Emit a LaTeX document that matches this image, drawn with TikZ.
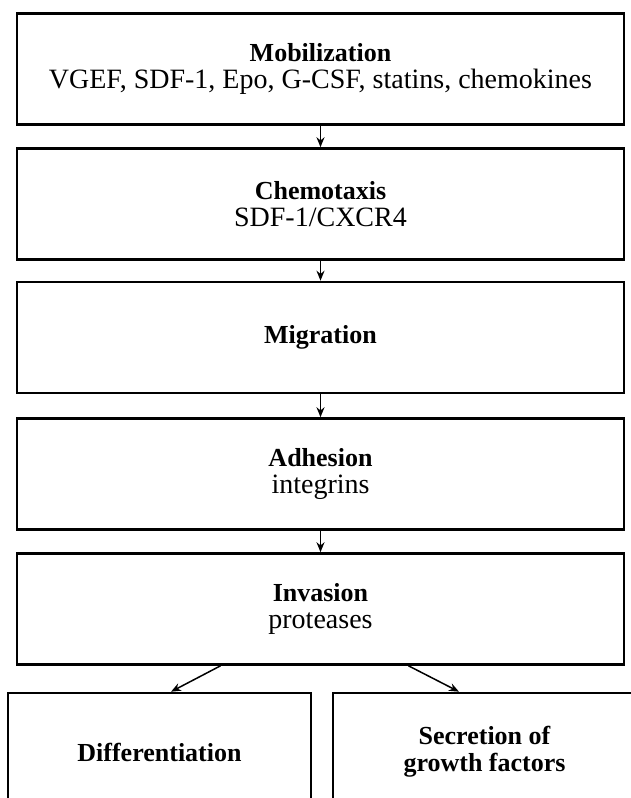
\documentclass[tikz,border=0pt]{standalone}
\usepackage{fontspec}
\setmainfont{Liberation Serif}
\usetikzlibrary{positioning, arrows.meta}

\newcommand{\stagename}[1]{{\fontsize{26}{27}\selectfont\bfseries #1}}

\begin{document}
\begin{tikzpicture}[x=1pt, y=-1pt,
    stage/.style={rectangle, draw, line width=2.6pt, minimum width=607pt, minimum height=111pt, align=center, font=\fontsize{28}{27}\selectfont},
    effect/.style={stage, minimum width=303pt, minimum height=118pt},
    flow/.style={-{Stealth[length=10pt, width=8pt]}, line width=1.5pt}]
            \useasboundingbox (0, 0) rectangle (631, 798);
            \clip (0, 0) rectangle (631, 798);

            \node[stage] (mob) at (320.5, 69) {\stagename{Mobilization}\\VGEF, SDF-1, Epo, G-CSF, statins, chemokines};
            \node[stage] (chem) at (320.5, 204) {\stagename{Chemotaxis}\\SDF-1/CXCR4};
            \node[stage] (migr) at (320.5, 337.5) {\stagename{Migration}};
            \node[stage] (adh) at (320.5, 474) {\stagename{Adhesion}\\integrins};
            \node[stage] (inv) at (320.5, 609) {\stagename{Invasion}\\proteases};
            \node[effect] (diff) at (159.5, 752) {\stagename{Differentiation}};
            \node[effect] (secr) at (484.5, 752) {\stagename{Secretion of}\\\stagename{growth factors}};

            \draw[flow] (mob) -- (chem);
            \draw[flow] (chem) -- (migr);
            \draw[flow] (migr) -- (adh);
            \draw[flow] (adh) -- (inv);
            \draw[flow] ([xshift=-100pt]inv.south) -- ([xshift=11.5pt]diff.north);
            \draw[flow] ([xshift=88pt]inv.south) -- ([xshift=-25.5pt]secr.north);
        \end{tikzpicture}
\end{document}
